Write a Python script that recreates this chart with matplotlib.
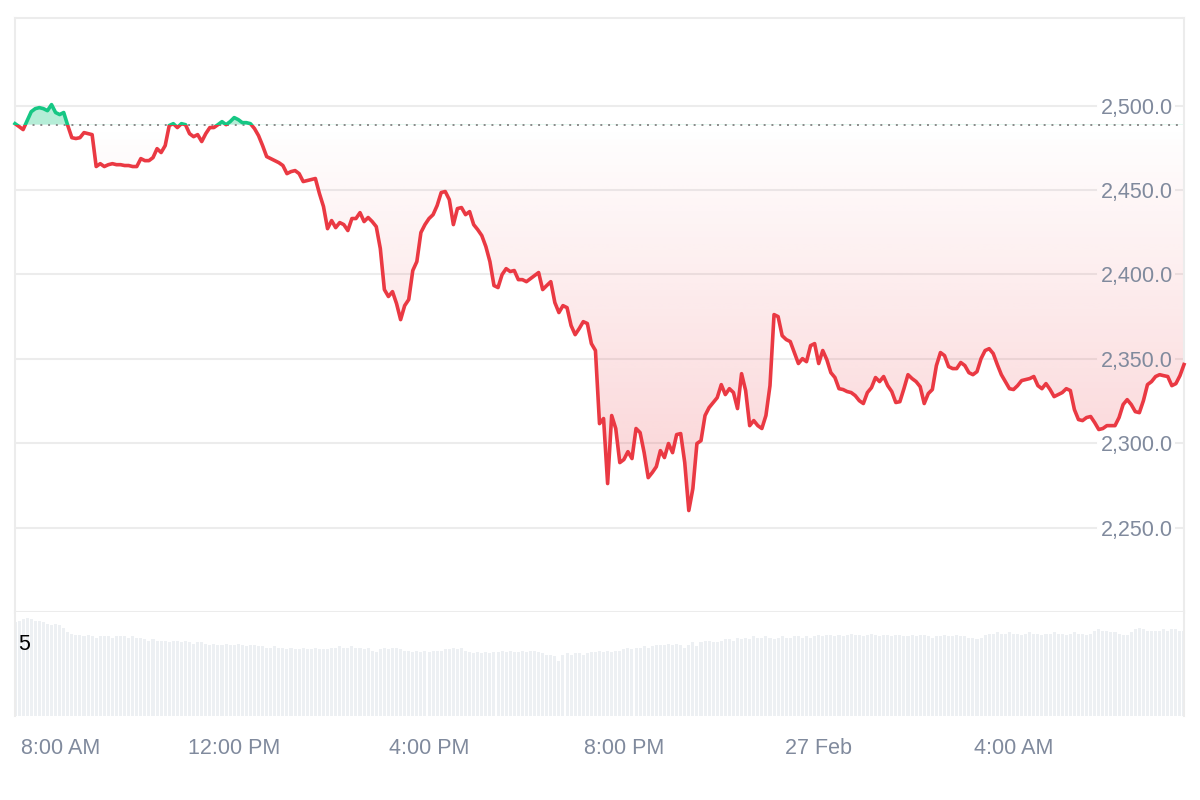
import matplotlib
matplotlib.use("Agg")
import matplotlib.pyplot as plt
import matplotlib.dates as mdates
import matplotlib.transforms as mtransforms
from matplotlib.patches import Rectangle
from matplotlib.colors import to_rgb
import numpy as np
import pandas as pd

plt.rcParams['font.family'] = ['Liberation Sans', 'DejaVu Sans']

# 5-minute closes, 26 Feb 07:30 -> 27 Feb 07:30
start = pd.Timestamp('2025-02-26 07:30')
end = pd.Timestamp('2025-02-27 07:30')
open_price = 2488.7

price = [
    2489.3, 2487.6, 2485.8, 2491.1, 2496.4, 2498.2, 2498.8, 2498.2, 2497.0, 2500.6,
    2495.9, 2494.7, 2495.9, 2488.2, 2481.0, 2480.5, 2481.0, 2484.0, 2483.4, 2482.8,
    2463.9, 2465.6, 2463.9, 2465.0, 2465.6, 2465.0, 2465.0, 2464.5, 2464.5, 2463.9,
    2463.9, 2468.6, 2467.4, 2467.4, 2469.2, 2474.5, 2472.2, 2476.3, 2488.2, 2489.3,
    2487.0, 2489.3, 2488.7, 2483.4, 2481.6, 2482.8, 2478.7, 2483.4, 2487.0, 2487.0,
    2488.7, 2490.5, 2488.7, 2490.5, 2492.9, 2491.7, 2489.9, 2489.9, 2489.3, 2486.4,
    2482.2, 2476.3, 2469.8, 2468.6, 2467.4, 2466.2, 2464.5, 2459.7, 2460.9, 2461.5,
    2459.7, 2455.0, 2455.6, 2456.2, 2456.8, 2447.9, 2440.2, 2427.1, 2431.9, 2427.7,
    2430.7, 2429.5, 2426.0, 2433.1, 2433.1, 2436.6, 2431.3, 2433.7, 2431.3, 2428.3,
    2415.3, 2391.0, 2386.9, 2389.8, 2382.7, 2373.2, 2381.5, 2385.1, 2402.3, 2407.6,
    2424.8, 2429.5, 2433.1, 2435.4, 2440.8, 2448.5, 2449.1, 2444.3, 2429.5, 2439.0,
    2439.6, 2435.4, 2437.2, 2429.5, 2426.5, 2423.0, 2416.5, 2407.6, 2393.4, 2392.2,
    2399.9, 2403.4, 2401.7, 2402.3, 2396.9, 2396.9, 2395.7, 2397.5, 2399.3, 2401.1,
    2391.0, 2393.4, 2395.7, 2383.3, 2377.4, 2381.5, 2380.3, 2369.7, 2364.3, 2367.9,
    2372.0, 2370.9, 2359.0, 2354.9, 2311.6, 2314.6, 2276.1, 2316.4, 2308.7, 2288.5,
    2290.3, 2295.0, 2290.9, 2308.7, 2306.3, 2294.4, 2279.6, 2282.6, 2286.1, 2295.6,
    2291.5, 2299.8, 2294.4, 2305.1, 2305.7, 2288.5, 2260.1, 2273.1, 2299.8, 2301.5,
    2316.4, 2321.1, 2324.1, 2327.0, 2334.7, 2328.8, 2332.3, 2330.0, 2320.5, 2341.2,
    2331.2, 2310.4, 2313.4, 2310.4, 2308.7, 2316.4, 2334.1, 2376.2, 2375.0, 2363.7,
    2361.4, 2360.2, 2353.7, 2347.2, 2350.1, 2348.3, 2357.8, 2359.0, 2347.2, 2354.9,
    2349.5, 2341.8, 2338.9, 2332.3, 2331.8, 2330.6, 2330.0, 2328.2, 2325.2, 2323.5,
    2330.0, 2332.9, 2338.9, 2336.5, 2339.5, 2334.1, 2330.6, 2324.1, 2324.6, 2332.3,
    2340.6, 2338.3, 2336.5, 2333.5, 2323.5, 2329.4, 2331.8, 2346.0, 2353.7, 2351.9,
    2345.4, 2344.2, 2344.2, 2347.8, 2346.0, 2341.8, 2340.6, 2342.4, 2350.1, 2354.9,
    2356.0, 2353.1, 2346.6, 2340.6, 2336.5, 2332.3, 2331.8, 2334.1, 2337.1, 2337.7,
    2338.3, 2339.5, 2334.1, 2332.3, 2335.3, 2331.8, 2327.6, 2328.8, 2330.0, 2332.3,
    2331.2, 2319.9, 2314.0, 2313.4, 2315.2, 2315.8, 2312.2, 2308.1, 2308.7, 2310.4,
    2310.4, 2310.4, 2315.2, 2322.9, 2325.8, 2322.9, 2318.7, 2318.1, 2325.2, 2334.7,
    2336.5, 2339.5, 2340.6, 2340.0, 2339.5, 2334.1, 2335.3, 2340.0, 2346.6,
]

volume = [
    6.6, 6.7, 6.8, 6.9, 6.8, 6.7, 6.7, 6.6, 6.5, 6.4, 6.5, 6.4, 6.2, 5.9, 5.8, 5.7,
    5.7, 5.6, 5.7, 5.6, 5.5, 5.6, 5.6, 5.6, 5.5, 5.6, 5.6, 5.6, 5.5, 5.6, 5.5, 5.5,
    5.4, 5.3, 5.4, 5.3, 5.3, 5.3, 5.2, 5.3, 5.3, 5.2, 5.3, 5.2, 5.1, 5.2, 5.2,
    5.1, 5.0, 5.1, 5.0, 5.0, 5.1, 5.0, 5.0, 5.1, 5.0, 4.9, 5.0, 5.0, 4.9,
    4.9, 4.8, 4.8, 4.9, 4.8, 4.8, 4.7, 4.8, 4.7, 4.7, 4.8,
    4.7, 4.7, 4.8, 4.7, 4.7, 4.7, 4.8, 4.8, 4.9, 4.8, 4.8, 4.9, 4.8, 4.8,
    4.7, 4.8, 4.6, 4.5, 4.7, 4.8, 4.7, 4.8, 4.8, 4.7,
    4.6, 4.6, 4.5, 4.6, 4.5, 4.6, 4.5, 4.6, 4.6, 4.6, 4.7,
    4.7, 4.8, 4.7, 4.8, 4.6, 4.5, 4.4, 4.5, 4.4, 4.5, 4.4, 4.5,
    4.5, 4.6, 4.5, 4.6, 4.5, 4.5, 4.6, 4.5, 4.6, 4.6, 4.5,
    4.4, 4.3, 4.3, 4.2, 3.9, 4.3, 4.4, 4.3, 4.4, 4.4, 4.3, 4.4, 4.5, 4.5,
    4.6, 4.5, 4.6, 4.5, 4.6, 4.6, 4.7, 4.8, 4.7, 4.8, 4.8, 4.9, 4.8, 4.9,
    5.0, 5.0, 5.0, 5.1, 5.0, 5.1, 5.0, 4.8, 5.0, 5.2, 4.9, 5.2, 5.3, 5.3,
    5.2, 5.2, 5.3, 5.4, 5.4, 5.3,
    5.5, 5.4, 5.5, 5.4, 5.6, 5.5, 5.5, 5.6, 5.5, 5.4, 5.5, 5.6, 5.5, 5.5, 5.6,
    5.6, 5.5, 5.6, 5.5,
    5.6, 5.7, 5.6, 5.7, 5.7, 5.6, 5.7, 5.6, 5.7, 5.8, 5.7, 5.7, 5.6, 5.7, 5.8,
    5.7, 5.6, 5.7, 5.7, 5.6, 5.7, 5.7, 5.6, 5.6, 5.7, 5.6, 5.7, 5.7, 5.6, 5.5,
    5.6, 5.6, 5.7, 5.6, 5.6, 5.7,
    5.6, 5.6, 5.5, 5.5, 5.4, 5.5, 5.7, 5.8,
    5.8, 5.9, 5.8, 5.8, 5.9, 5.8, 5.8, 5.7, 5.8, 5.9, 5.8, 5.8, 5.7, 5.8, 5.8,
    5.9, 5.8, 5.8, 5.7, 5.8, 5.9, 5.8, 5.8, 5.7, 5.8,
    6.0, 6.1, 6.0, 6.0, 5.9, 5.9, 5.8, 5.7, 5.7, 5.9, 6.1, 6.2, 6.1, 6.0, 6.0,
    6.0, 6.0, 6.1, 6.0, 6.1, 6.1, 6.0, 6.0,
]

price_ticks = [2250, 2300, 2350, 2400, 2450, 2500]
time_ticks = ['2025-02-26 08:00', '2025-02-26 12:00', '2025-02-26 16:00',
              '2025-02-26 20:00', '2025-02-27 00:00', '2025-02-27 04:00']
time_labels = ['8:00 AM', '12:00 PM', '4:00 PM', '8:00 PM', '27 Feb', '4:00 AM']
vol_mark = 5

UP = '#16c784'
DOWN = '#ea3943'
TEXT = '#808a9d'
GRID = '#ececec'

fig = plt.figure(figsize=(12, 8), dpi=100)
ax = fig.add_axes([0.0125, 0.235, 0.97417, 0.7425])
axv = fig.add_axes([0.0125, 0.105, 0.97417, 0.13])

x0 = mdates.date2num(start.to_pydatetime())
x1 = mdates.date2num(end.to_pydatetime())
xp = mdates.date2num(pd.date_range(start, periods=len(price), freq='5min').to_pydatetime())
xv = mdates.date2num(pd.date_range(start, periods=len(volume), freq='5min').to_pydatetime())
price = np.array(price)

# grid lines, broken where the labels sit
for v in price_ticks:
    ax.axhline(v, xmin=0, xmax=0.925, color=GRID, lw=1.5, zorder=0)
    ax.axhline(v, xmin=0.993, xmax=1, color=GRID, lw=1.5, zorder=0)
    ax.text(0.9906, v, f'{v:,.1f}', transform=mtransforms.blended_transform_factory(ax.transAxes, ax.transData),
            ha='right', va='center_baseline', color=TEXT, fontsize=15.5, zorder=4)

# gradient area between price and open
poly = ax.fill_between(xp, price, open_price, facecolor='none', edgecolor='none')
clip = poly.get_paths()[0]
g = np.zeros((256, 2, 4))
g[..., :3] = to_rgb(DOWN)
g[..., 3] = np.linspace(0.24, 0.0, 256)[:, None]
im = ax.imshow(g, extent=[x0, x1, 2250, open_price], origin='lower', aspect='auto',
               interpolation='bilinear', zorder=1)
im.set_clip_path(clip, transform=ax.transData)
gg = np.zeros((2, 2, 4))
gg[..., :3] = to_rgb(UP)
gg[..., 3] = 0.32
im2 = ax.imshow(gg, extent=[x0, x1, open_price, 2520], origin='lower', aspect='auto', zorder=1)
im2.set_clip_path(clip, transform=ax.transData)

ax.axhline(open_price, xmin=0.002, xmax=0.997, color='#8a8a8a', lw=1.4, ls=(0, (1, 3)), zorder=2)

below = Rectangle((x0 - 1, 2000), x1 - x0 + 2, open_price - 2000, transform=ax.transData)
above = Rectangle((x0 - 1, open_price), x1 - x0 + 2, 1000, transform=ax.transData)
l1, = ax.plot(xp, price, color=DOWN, lw=2.6, zorder=3, solid_joinstyle='round')
l1.set_clip_path(below)
l2, = ax.plot(xp, price, color=UP, lw=2.6, zorder=3, solid_joinstyle='round')
l2.set_clip_path(above)

ax.set_xlim(x0, x1)
ax.set_ylim(2200, 2551.9)
ax.set_xticks([])
ax.set_yticks([])
for s in ax.spines.values():
    s.set_color(GRID)
    s.set_linewidth(1.5)

# volume
axv.bar(xv, volume, width=0.75 / 288, color='#edf0f3', zorder=1)
axv.set_xlim(x0, x1)
axv.set_ylim(0, 7.32)
axv.set_xticks([])
axv.set_yticks([])
axv.spines['top'].set_visible(False)
axv.spines['bottom'].set_visible(False)
for s in ['left', 'right']:
    axv.spines[s].set_color(GRID)
    axv.spines[s].set_linewidth(1.5)
axv.text(0.003, vol_mark, str(vol_mark), transform=mtransforms.blended_transform_factory(axv.transAxes, axv.transData),
         ha='left', va='center', color='black', fontsize=15.5, zorder=3)

tt = mtransforms.blended_transform_factory(axv.transData, axv.transAxes)
for i, (t, lab) in enumerate(zip(time_ticks, time_labels)):
    tx = mdates.date2num(pd.Timestamp(t).to_pydatetime())
    tr = tt
    if i == 0:
        tr = tt + mtransforms.ScaledTranslation(0.21, 0, fig.dpi_scale_trans)
    axv.text(tx, -0.31, lab, transform=tr, ha='center', va='center', color=TEXT, fontsize=15.5, clip_on=False)

fig.savefig('out.png', dpi=100)
